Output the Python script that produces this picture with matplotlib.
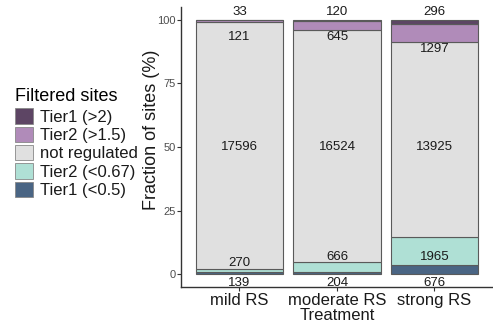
import numpy as np
import matplotlib
matplotlib.use('Agg')
from matplotlib import pyplot as plt
from matplotlib.patches import Patch

plt.rcParams['font.family'] = ['Liberation Sans', 'DejaVu Sans']

treatments = ['mild RS', 'moderate RS', 'strong RS']
# counts per category, bottom to top
tier1_down = [139, 204, 676]
tier2_down = [270, 666, 1965]
not_regulated = [17596, 16524, 13925]
tier2_up = [121, 645, 1297]
tier1_up = [33, 120, 296]

categories = ['Tier1 (<0.5)', 'Tier2 (<0.67)', 'not regulated', 'Tier2 (>1.5)', 'Tier1 (>2)']
colors = ['#4a6584', '#afe0d5', '#e0e0e0', '#b08bb9', '#5d4564']

counts = np.array([tier1_down, tier2_down, not_regulated, tier2_up, tier1_up], dtype=float)
frac = counts / counts.sum(axis=0) * 100

fig = plt.figure(figsize=(4.93, 3.27), dpi=100)
ax = fig.add_axes([0.367, 0.122, 0.633, 0.857])

x = np.arange(1, 4)
bottom = np.zeros(3)
for i in range(5):
	ax.bar(x, frac[i], bottom=bottom, width=0.9, color=colors[i],
		   edgecolor='#5a5a5a', linewidth=0.8)
	bottom += frac[i]

# labels
tcol = '#1a1a1a'
fs = 9.5
for j in range(3):
	ax.text(x[j], -3.2, str(tier1_down[j]), ha='center', va='center', fontsize=fs, color=tcol)
	top2 = frac[0, j] + frac[1, j]
	ax.text(x[j], min(top2 + 2.4, 7.0), str(tier2_down[j]), ha='center', va='center', fontsize=fs, color=tcol)
	ax.text(x[j], 50, str(not_regulated[j]), ha='center', va='center', fontsize=fs, color=tcol)
	bot_up = 100 - frac[3, j] - frac[4, j]
	ax.text(x[j], min(bot_up - 2.6, 93.3), str(tier2_up[j]), ha='center', va='center', fontsize=fs, color=tcol)
	ax.text(x[j], 102.8, str(tier1_up[j]), ha='center', va='center', fontsize=fs, color=tcol)

ax.set_xlim(0.4, 3.6)
ax.set_ylim(-5, 105)
ax.set_xticks(x)
ax.set_xticklabels(treatments, fontsize=12, color='#1a1a1a')
ax.set_yticks([0, 25, 50, 75, 100])
ax.set_yticklabels(['0', '25', '50', '75', '100'], fontsize=8, color='#4d4d4d')
ax.tick_params(axis='both', length=3, width=0.8, color='#333333', pad=1)
ax.set_xlabel('Treatment', fontsize=12, color='#1a1a1a', labelpad=0)
ax.set_ylabel('Fraction of sites (%)', fontsize=13, color='#1a1a1a')
ax.yaxis.set_label_coords(-0.067, 0.56)
for s in ['top', 'right']:
	ax.spines[s].set_visible(False)
for s in ['left', 'bottom']:
	ax.spines[s].set_color('#333333')
	ax.spines[s].set_linewidth(1.0)

handles = [Patch(facecolor=colors[i], edgecolor='#888888', linewidth=0.6) for i in range(4, -1, -1)]
labels = [categories[i] for i in range(4, -1, -1)]
leg = fig.legend(handles, labels, title='Filtered sites', loc='upper left',
				 bbox_to_anchor=(0.028, 0.735), frameon=False, fontsize=12,
				 title_fontsize=13, handlelength=1.05, handleheight=1.05,
				 handletextpad=0.4, labelspacing=0.12, borderaxespad=0, borderpad=0.1)
leg._legend_box.align = 'left'
leg._legend_box.sep = 2
for t in leg.get_texts():
	t.set_color('#1a1a1a')

plt.savefig('out.png', dpi=100)
